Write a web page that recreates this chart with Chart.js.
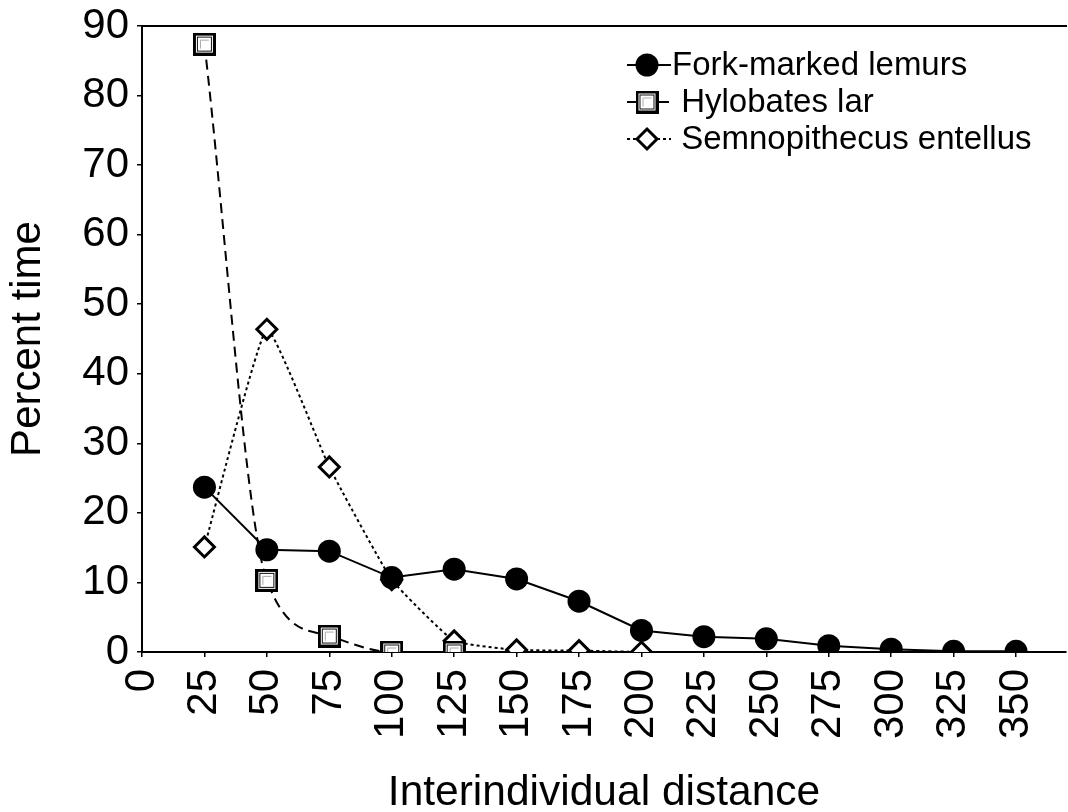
<!DOCTYPE html>
<html>
<head>
<meta charset="utf-8">
<script src="https://cdn.jsdelivr.net/npm/chart.js@4.4.1/dist/chart.umd.min.js"></script>
<style>
  html, body { margin: 0; padding: 0; overflow: hidden; background: #fff; }
  canvas { display: block; }
</style>
</head>
<body>
<canvas id="distChart" width="1068" height="812"></canvas>
<script>
// interindividual distance classes and percent time spent in each
var distances = [25, 50, 75, 100, 125, 150, 175, 200, 225, 250, 275, 300, 325, 350];
var forkMarked = [23.7, 14.7, 14.5, 10.7, 11.9, 10.5, 7.3, 3.1, 2.2, 1.9, 0.9, 0.4, 0.1, 0.1];
var hylobatesLar = [87.4, 10.3, 2.3, 0, 0];
var semnopithecus = [15.1, 46.4, 26.6, 10.4, 1.6, 0.3, 0.2, 0];
var seriesNames = ["Fork-marked lemurs", " Hylobates lar", " Semnopithecus entellus"];
var xTicks = [0, 25, 50, 75, 100, 125, 150, 175, 200, 225, 250, 275, 300, 325, 350];
var yTicks = [0, 10, 20, 30, 40, 50, 60, 70, 80, 90];

var FONT = "'Liberation Sans', Arial, sans-serif";

function toPoints(values) {
  return values.map(function (v, i) {
    return { x: distances[i], y: v };
  });
}

// double framed square used for the gibbon series
function squareMarker(size) {
  var c = document.createElement("canvas");
  c.width = size;
  c.height = size;
  var g = c.getContext("2d");
  g.fillStyle = "#000";
  g.fillRect(0, 0, size, size);
  g.fillStyle = "#fff";
  g.fillRect(3, 3, size - 6, size - 6);
  g.strokeStyle = "#111";
  g.lineWidth = 1;
  g.strokeRect(4.5, 4.5, size - 9, size - 9);
  g.strokeStyle = "#aaa";
  g.beginPath();
  g.moveTo(7.5, size - 7);
  g.lineTo(7.5, 7.5);
  g.lineTo(size - 7, 7.5);
  g.stroke();
  return c;
}

// legend drawn inside the plot, each entry with a short piece of its line
var seriesKey = {
  id: "seriesKey",
  afterDatasetsDraw: function (chart) {
    var ctx = chart.ctx;
    ctx.save();
    ctx.font = "33px " + FONT;
    ctx.textBaseline = "middle";
    chart.data.datasets.forEach(function (ds, i) {
      var y = 65 + i * 37;
      ctx.strokeStyle = "#000";
      ctx.lineWidth = 2;
      ctx.setLineDash(ds.borderDash || []);
      ctx.beginPath();
      ctx.moveTo(627, y);
      ctx.lineTo(671, y);
      ctx.stroke();
      ctx.setLineDash([]);
      ctx.fillStyle = ds.pointBackgroundColor;
      ctx.strokeStyle = "#000";
      ctx.lineWidth = ds.pointBorderWidth;
      Chart.helpers.drawPoint(ctx, {
        pointStyle: ds.pointStyle,
        radius: ds.pointRadius,
        borderWidth: ds.pointBorderWidth,
        rotation: 0
      }, 647, y);
      ctx.fillStyle = "#000";
      ctx.fillText(ds.label, 672, y + 1);
    });
    ctx.restore();
  }
};

var ctx = document.getElementById("distChart");

new Chart(ctx, {
  type: "line",
  data: {
    datasets: [
      {
        label: seriesNames[0],
        data: toPoints(forkMarked),
        borderColor: "#000",
        borderWidth: 2,
        tension: 0,
        pointStyle: "circle",
        pointRadius: 11.5,
        pointBorderWidth: 0,
        pointBackgroundColor: "#000",
        clip: { left: false, top: false, right: false, bottom: 0 }
      },
      {
        label: seriesNames[1],
        data: toPoints(hylobatesLar),
        borderColor: "#000",
        borderWidth: 2,
        borderDash: [10, 6],
        cubicInterpolationMode: "monotone",
        pointStyle: squareMarker(23),
        pointRadius: 11,
        pointBorderWidth: 0,
        pointBackgroundColor: "#fff",
        clip: { left: false, top: false, right: false, bottom: 0 }
      },
      {
        label: seriesNames[2],
        data: toPoints(semnopithecus),
        borderColor: "#000",
        borderWidth: 2,
        borderDash: [3, 3],
        tension: 0.12,
        pointStyle: "rectRot",
        pointRadius: 10,
        pointBorderWidth: 3,
        pointBorderColor: "#000",
        pointBackgroundColor: "#fff",
        clip: { left: false, top: false, right: false, bottom: 0 }
      }
    ]
  },
  options: {
    responsive: false,
    animation: false,
    layout: { autoPadding: false, padding: { top: 26, right: 2, bottom: 0, left: 0 } },
    plugins: {
      legend: { display: false },
      tooltip: { enabled: false }
    },
    scales: {
      x: {
        type: "linear",
        position: "bottom",
        min: 0,
        max: 370,
        afterBuildTicks: function (scale) {
          scale.ticks = xTicks.map(function (v) { return { value: v }; });
        },
        afterFit: function (scale) {
          scale.height = 160;
          scale.paddingLeft = 0;
          scale.paddingRight = 0;
        },
        grid: { drawOnChartArea: false, color: "#000", lineWidth: 1.5, tickLength: 5 },
        border: { color: "#000", width: 2 },
        ticks: {
          autoSkip: false,
          minRotation: 90,
          maxRotation: 90,
          padding: 12,
          color: "#000",
          font: { family: FONT, size: 42 }
        },
        title: {
          display: true,
          text: "Interindividual distance",
          color: "#000",
          font: { family: FONT, size: 42.5, lineHeight: 1 },
          padding: { top: 0, bottom: -3 }
        }
      },
      xTop: {
        type: "linear",
        position: "top",
        min: 0,
        max: 1,
        afterFit: function (scale) { scale.height = 0; },
        grid: { display: false, drawTicks: false },
        border: { color: "#000", width: 2 },
        ticks: { display: false }
      },
      y: {
        min: 0,
        max: 90,
        afterBuildTicks: function (scale) {
          scale.ticks = yTicks.map(function (v) { return { value: v }; });
        },
        afterFit: function (scale) {
          scale.width = 142;
          scale.paddingTop = 0;
          scale.paddingBottom = 0;
        },
        grid: { drawOnChartArea: false, color: "#000", lineWidth: 1.5, tickLength: 5 },
        border: { color: "#000", width: 2 },
        ticks: {
          padding: 8,
          color: "#000",
          font: { family: FONT, size: 42 }
        },
        title: {
          display: true,
          text: "Percent time",
          color: "#000",
          font: { family: FONT, size: 42, lineHeight: 1 },
          padding: { top: 7, bottom: 0 }
        }
      }
    }
  },
  plugins: [seriesKey]
});
</script>
</body>
</html>
